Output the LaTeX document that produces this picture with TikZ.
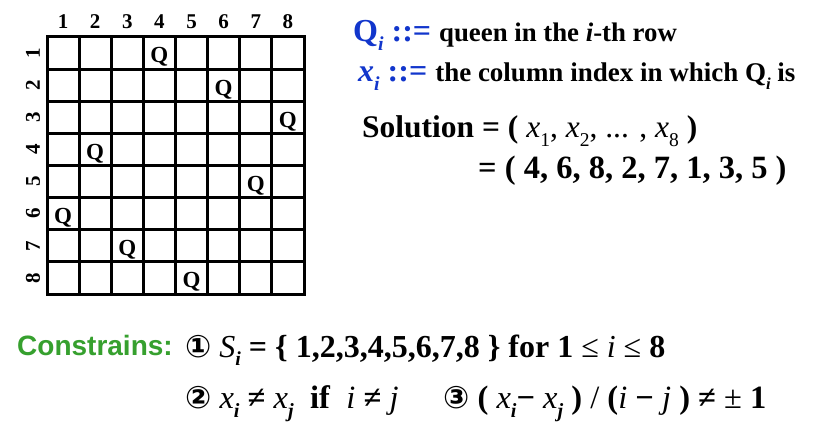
\documentclass[tikz,border=0pt]{standalone}
\usepackage{fontspec}
\setmainfont{Liberation Serif}
\newfontfamily\arialf{Liberation Sans}
\newfontfamily\djv{DejaVu Sans}
\newcommand\fsz[1]{\fontsize{#1}{#1}\selectfont}
\newcommand\sbi[1]{\raisebox{-0.28em}{\fontsize{0.62em}{0.62em}\selectfont #1}}
\newcommand\circd[1]{{\djv\bfseries\fsz{31}#1}}
\definecolor{qblue}{HTML}{1236CC}
\definecolor{cgreen}{HTML}{36A02E}
\tikzset{
  gridline/.style={line width=3pt, line cap=rect},
  lbl/.style={inner sep=0pt, font=\fsz{21}\bfseries},
  queen/.style={inner sep=0pt, anchor=base, font=\fsz{23}\bfseries},
  txt/.style={inner sep=0pt, anchor=base west},
}
\begin{document}
\begin{tikzpicture}[x=1pt,y=-1pt]
\path[use as bounding box, fill=white] (0,0) rectangle (839,436);
% board
\foreach \i in {0,...,8} {
  \draw[gridline] (47+\i*32.125,37) -- (47+\i*32.125,294);
  \draw[gridline] (47,37+\i*32.125) -- (304,37+\i*32.125);
}
\foreach \c in {1,...,8}
  \node[lbl] (col\c) at (47+\c*32.125-16.06, 22) {\c};
\foreach \r in {1,...,8}
  \node[lbl, rotate=90] (row\r) at (33, 37+\r*32.125-16.06) {\r};
\foreach \r/\c in {1/4,2/6,3/8,4/2,5/7,6/1,7/3,8/5}
  \node[queen] (q\r) at (47+\c*32.125-16.06, 37+\r*32.125-32.125+26) {Q};
% definitions
\node[txt] (defQ) at (353,42) {{\fsz{32}\bfseries\color{qblue}Q\sbi{\textit{i}} ::=}\hspace{8pt}{\fsz{26.8}\bfseries queen in the \textit{i}-th row}};
\node[txt] (defx) at (358,82) {{\fsz{32}\bfseries\color{qblue}\textit{x}\sbi{\textit{i}} ::=}\hspace{8pt}{\fsz{27}\bfseries the column index in which Q\sbi{\textit{i}} is}};
\node[txt] (sol1) at (362,138) {\fsz{31.5}\textbf{Solution = (} \textit{x}\sbi{1}, \textit{x}\sbi{2}, ... , \textit{x}\sbi{8} \textbf{)}};
\node[txt] (sol2) at (478,178) {\fsz{32.5}\bfseries = ( 4, 6, 8, 2, 7, 1, 3, 5 )};
% constraints
\node[txt] (cons) at (17,355) {\fsz{28}\arialf\bfseries\color{cgreen}Constrains:};
\node[txt] (c1) at (185,357) {\fsz{32}\circd{①} \textit{S}\sbi{\textbf{\textit{i}}} \textbf{= \{ 1,2,3,4,5,6,7,8 \} for 1} ≤ \textit{i} ≤ \textbf{8}};
\node[txt] (c2) at (185,408) {\fsz{32.5}\circd{②} \textit{x}\sbi{\textbf{\textit{i}}} \textbf{≠} \textit{x}\sbi{\textbf{\textit{j}}} \ \textbf{if} \ \textit{i} \textbf{≠} \textit{j}};
\node[txt] (c3) at (443,408) {\fsz{32.5}\circd{③} \textbf{(} \textit{x}\sbi{\textbf{\textit{i}}}\textbf{−} \textit{x}\sbi{\textbf{\textit{j}}} \textbf{)} / \textbf{(}\textit{i} \textbf{−} \textit{j} \textbf{)} \textbf{≠} ± \textbf{1}};
\end{tikzpicture}
\end{document}
